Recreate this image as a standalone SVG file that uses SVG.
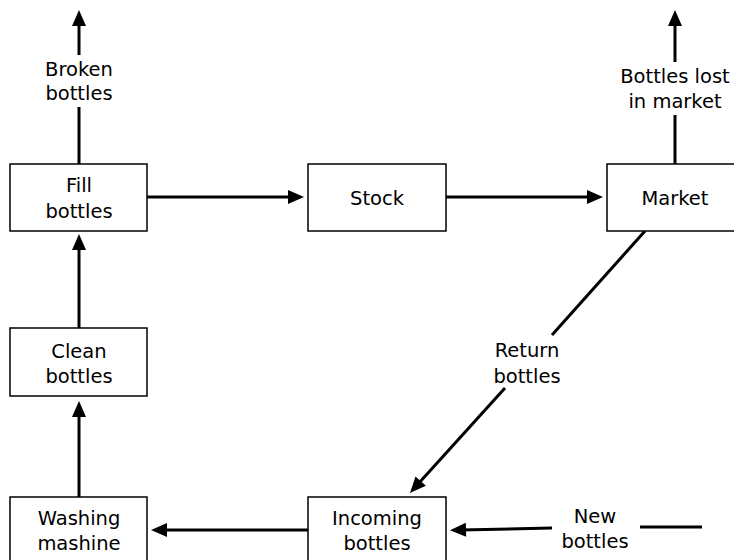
<svg xmlns="http://www.w3.org/2000/svg" width="734" height="560" viewBox="0 0 734 560">
<defs>
<marker id="ah" markerUnits="userSpaceOnUse" markerWidth="16" markerHeight="14" refX="6" refY="7" orient="auto" overflow="visible">
<path d="M0,0 L16,7 L0,14 z" fill="#000"/>
</marker>
<style>
.box{fill:#fff;stroke:#000;stroke-width:1.5}
.t{font-family:"DejaVu Sans",sans-serif;font-size:19.5px;fill:#000;text-anchor:middle}
.c{stroke:#000;stroke-width:3;fill:none}
.a{marker-end:url(#ah)}
</style>
</defs>
<rect width="734" height="560" fill="#fff"/>
<g id="connectors">
<line class="c" x1="79" y1="164" x2="79" y2="107"/>
<line class="c a" x1="79" y1="55" x2="79" y2="20"/>
<line class="c" x1="675" y1="164" x2="675" y2="115"/>
<line class="c a" x1="675" y1="62" x2="675" y2="20"/>
<line class="c a" x1="147" y1="197" x2="294" y2="197"/>
<line class="c a" x1="446" y1="197" x2="593" y2="197"/>
<line class="c a" x1="79" y1="328" x2="79" y2="244"/>
<line class="c a" x1="79" y1="497" x2="79" y2="411"/>
<line class="c" x1="645" y1="231" x2="552" y2="335"/>
<line class="c a" x1="505" y1="388" x2="416.7" y2="485.6"/>
<line class="c a" x1="308" y1="530" x2="161" y2="530"/>
<line class="c a" x1="552" y1="528" x2="460" y2="530"/>
<line class="c" x1="640" y1="527" x2="702" y2="527"/>
<text class="t" x="79" y="76">Broken</text>
<text class="t" x="79" y="100">bottles</text>
<text class="t" x="675" y="83">Bottles lost</text>
<text class="t" x="675" y="108">in market</text>
<text class="t" x="527" y="357">Return</text>
<text class="t" x="527" y="383">bottles</text>
<text class="t" x="595" y="523">New</text>
<text class="t" x="595" y="548">bottles</text>
</g>
<g id="fill-bottles">
<rect class="box" x="10" y="164" width="137" height="67"/>
<text class="t" x="79" y="192">Fill</text>
<text class="t" x="79" y="218">bottles</text>
</g>
<g id="stock">
<rect class="box" x="308" y="164" width="138" height="67"/>
<text class="t" x="377" y="205">Stock</text>
</g>
<g id="market">
<rect class="box" x="607" y="164" width="137" height="67"/>
<text class="t" x="675" y="205">Market</text>
</g>
<g id="clean-bottles">
<rect class="box" x="10" y="328" width="137" height="68"/>
<text class="t" x="79" y="358">Clean</text>
<text class="t" x="79" y="383">bottles</text>
</g>
<g id="washing-mashine">
<rect class="box" x="10" y="497" width="137" height="68"/>
<text class="t" x="79" y="525">Washing</text>
<text class="t" x="79" y="550">mashine</text>
</g>
<g id="incoming-bottles">
<rect class="box" x="308" y="497" width="138" height="68"/>
<text class="t" x="377" y="525">Incoming</text>
<text class="t" x="377" y="550">bottles</text>
</g>
</svg>
